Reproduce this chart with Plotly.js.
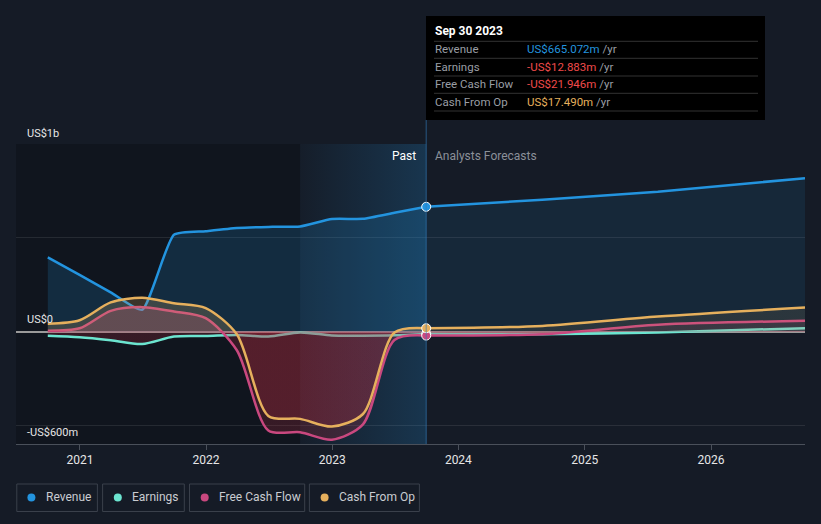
<!DOCTYPE html>
<html>
<head>
<meta charset="utf-8">
<script src="https://cdn.plot.ly/plotly-3.0.1.min.js"></script>
<style>
  html, body { margin: 0; padding: 0; background: #151b26; }
  #chart { width: 821px; height: 524px; }
</style>
</head>
<body>
<div id="chart"></div>
<script>
// ---- data (US$ millions) ----
const pastDates = ['2020-09-30','2020-12-31','2021-03-31','2021-06-30','2021-09-30','2021-12-31','2022-03-31','2022-06-30','2022-09-30','2022-12-31','2023-03-31','2023-06-30','2023-09-30'];
const revenuePast  = [395, 302, 209, 116, 516, 535, 552, 558, 560, 600, 601, 633, 665.072];
const earningsPast = [-23, -31, -47, -67, -27, -24, -18, -27, -5, -21, -22, -20, -12.883];
const fcfPast      = [4, 17, 110, 130, 107, 71, -100, -528, -537, -577, -495, -45, -21.946];
const cfoPast      = [41, 60, 155, 180, 151, 125, -15, -450, -466, -507, -440, -5, 17.49];

const forecastDates = ['2023-09-30','2024-08-31','2025-07-31','2026-09-30'];
const revenueFc  = [665.072, 703, 745, 818];
const earningsFc = [-12.883, -15, -5, 18];
const fcfFc      = [-21.946, -14, 36, 57];
const cfoFc      = [17.49, 30, 80, 128];

const yearTicks = ['2021-01-01','2022-01-01','2023-01-01','2024-01-01','2025-01-01','2026-01-01'];
const yearLabels = ['2021','2022','2023','2024','2025','2026'];
const seriesNames = ['Revenue','Earnings','Free Cash Flow','Cash From Op'];
const seriesColors = ['#2394df','#6ce5d0','#c9487f','#e6b05d'];
const tooltipDate = 'Sep 30 2023';
const tooltipValues = ['US$665.072m','-US$12.883m','-US$21.946m','US$17.490m'];
const tooltipValueColors = ['#2394df','#f04b4b','#f04b4b','#e6b05d'];

// ---- layout geometry helpers ----
const W = 821, H = 524;
const M = {l: 16, r: 16, t: 144, b: 80};
const PW = W - M.l - M.r, PH = H - M.t - M.b;
const xp = px => (px - M.l) / PW;
const yp = py => (H - M.b - py) / PH;

const YMIN = -600, YMAX = 1000;
const zeroFrac = (0 - YMIN) / (YMAX - YMIN);
function signedGradient(posColor, negColor) {
  return {
    type: 'vertical', start: YMIN, stop: YMAX,
    colorscale: [[0, negColor], [zeroFrac, negColor], [zeroFrac + 0.0001, posColor], [1, posColor]]
  };
}
const NEG = 'rgba(190,45,65,0.22)';

function line(x, y, color, fillPos, extra) {
  return Object.assign({
    type: 'scatter', mode: 'lines', x: x, y: y,
    line: {color: color, width: 2.5, shape: 'spline', smoothing: 0.8},
    fill: 'tozeroy',
    fillgradient: signedGradient(fillPos, NEG),
    hoverinfo: 'skip', showlegend: false
  }, extra || {});
}

const traces = [
  // past-year band (gradient)
  {type: 'scatter', mode: 'none', x: ['2022-09-30','2023-09-30','2023-09-30','2022-09-30'], y: [YMIN, YMIN, YMAX, YMAX],
   fill: 'toself', fillgradient: {type: 'horizontal',
     colorscale: [[0, 'rgba(35,148,223,0.02)'], [1, 'rgba(35,148,223,0.22)']]},
   hoverinfo: 'skip', showlegend: false},
  // revenue
  {type: 'scatter', mode: 'lines', x: pastDates, y: revenuePast, fill: 'tozeroy', fillcolor: 'rgba(35,148,223,0.18)',
   line: {color: seriesColors[0], width: 2.5, shape: 'spline', smoothing: 0.5}, hoverinfo: 'skip', showlegend: false},
  {type: 'scatter', mode: 'lines', x: forecastDates, y: revenueFc, fill: 'tozeroy', fillcolor: 'rgba(35,148,223,0.11)',
   line: {color: seriesColors[0], width: 2.5, shape: 'spline', smoothing: 0.5}, hoverinfo: 'skip', showlegend: false},
  // earnings
  line(pastDates, earningsPast, seriesColors[1], 'rgba(108,229,208,0.15)'),
  line(forecastDates, earningsFc, seriesColors[1], 'rgba(108,229,208,0.08)'),
  // free cash flow
  line(pastDates, fcfPast, seriesColors[2], 'rgba(201,72,127,0.25)'),
  line(forecastDates, fcfFc, seriesColors[2], 'rgba(201,72,127,0.10)'),
  // cash from op
  line(pastDates, cfoPast, seriesColors[3], 'rgba(230,176,93,0.20)'),
  line(forecastDates, cfoFc, seriesColors[3], 'rgba(230,176,93,0.10)'),
];
// end-of-past markers
const lastIdx = pastDates.length - 1;
[[earningsPast, 1], [revenuePast, 0], [fcfPast, 2], [cfoPast, 3]].forEach(([arr, i]) => {
  traces.push({type: 'scatter', mode: 'markers', x: [pastDates[lastIdx]], y: [arr[lastIdx]],
    marker: {color: seriesColors[i], size: 9, line: {color: '#ffffff', width: 1}},
    hoverinfo: 'skip', showlegend: false});
});

const shapes = [
  // darker past region
  {type: 'rect', xref: 'x', yref: 'paper', x0: '2020-06-30', x1: '2022-09-30', y0: 0, y1: 1,
   fillcolor: 'rgba(0,0,0,0.2)', line: {width: 0}, layer: 'below'},
  // tooltip vertical line
  {type: 'line', xref: 'x', yref: 'paper', x0: '2023-09-30', x1: '2023-09-30', y0: 0, y1: yp(120),
   line: {color: 'rgba(50,120,180,0.55)', width: 1.2}},
  // tooltip box
  {type: 'rect', xref: 'paper', yref: 'paper', x0: xp(426), x1: xp(765), y0: yp(120), y1: yp(16),
   fillcolor: '#000000', line: {width: 0}},
];
[41.3, 58.3, 76, 93.3, 111].forEach(py => {
  shapes.push({type: 'line', xref: 'paper', yref: 'paper', x0: xp(434), x1: xp(758), y0: yp(py), y1: yp(py),
    line: {color: '#333333', width: 1}});
});

const annotations = [
  {xref: 'paper', yref: 'y', x: 0, y: 1000, xanchor: 'left', yanchor: 'middle', xshift: 9, yshift: 11,
   text: 'US$1b', showarrow: false, font: {color: '#e6e6e6', size: 11}},
  {xref: 'paper', yref: 'y', x: 0, y: 0, xanchor: 'left', yanchor: 'middle', xshift: 9, yshift: 12,
   text: 'US$0', showarrow: false, font: {color: '#e6e6e6', size: 11}},
  {xref: 'paper', yref: 'y', x: 0, y: -600, xanchor: 'left', yanchor: 'middle', xshift: 9, yshift: 12,
   text: '-US$600m', showarrow: false, font: {color: '#e6e6e6', size: 11}},
  {xref: 'x', yref: 'paper', x: '2023-09-30', y: yp(156), xanchor: 'right', yanchor: 'middle', xshift: -8,
   text: 'Past', showarrow: false, font: {color: '#ffffff', size: 12}},
  {xref: 'x', yref: 'paper', x: '2023-09-30', y: yp(156), xanchor: 'left', yanchor: 'middle', xshift: 7,
   text: 'Analysts Forecasts', showarrow: false, font: {color: '#8b9099', size: 12}},
  {xref: 'paper', yref: 'paper', x: xp(433), y: yp(31), xanchor: 'left', yanchor: 'middle',
   text: '<b>' + tooltipDate + '</b>', showarrow: false, font: {color: '#ffffff', size: 12}},
];
const rowY = [49, 66.7, 84.3, 101.7];
seriesNames.forEach((n, i) => {
  annotations.push({xref: 'paper', yref: 'paper', x: xp(433), y: yp(rowY[i]), xanchor: 'left', yanchor: 'middle',
    text: n, showarrow: false, font: {color: '#9a9ea5', size: 11.5}});
  annotations.push({xref: 'paper', yref: 'paper', x: xp(525), y: yp(rowY[i]), xanchor: 'left', yanchor: 'middle',
    text: '<span style="color:' + tooltipValueColors[i] + '">' + tooltipValues[i] + '</span> /yr',
    showarrow: false, font: {color: '#9a9ea5', size: 11.5}});
});

// custom boxed legend
const boxes = [[16.8, 97.4], [102.6, 184.3], [189.5, 304.7], [309.4, 419.4]];
const dotsX = [31.4, 117.8, 204.7, 324.6];
const textX = [44, 129.8, 216.8, 337.2];
seriesNames.forEach((n, i) => {
  shapes.push({type: 'rect', xref: 'paper', yref: 'paper', x0: xp(boxes[i][0]), x1: xp(boxes[i][1]),
    y0: yp(511.5), y1: yp(484), line: {color: '#3a404b', width: 1}, fillcolor: 'rgba(0,0,0,0)'});
  shapes.push({type: 'circle', xref: 'paper', yref: 'paper', xsizemode: 'pixel', ysizemode: 'pixel',
    xanchor: xp(dotsX[i]), yanchor: yp(497.5), x0: -4, x1: 4, y0: -4, y1: 4,
    fillcolor: seriesColors[i], line: {width: 0}});
  annotations.push({xref: 'paper', yref: 'paper', x: xp(textX[i]), y: yp(497.5), xanchor: 'left', yanchor: 'middle',
    text: n, showarrow: false, font: {color: '#c9ccd1', size: 12}});
});

const layout = {
  width: W, height: H,
  margin: M,
  paper_bgcolor: '#151b26', plot_bgcolor: '#151b26',
  font: {family: 'Roboto, "Open Sans", sans-serif'},
  xaxis: {type: 'date', range: ['2020-06-30', '2026-09-30'], tickvals: yearTicks, ticktext: yearLabels,
    showgrid: false, zeroline: false, showline: true, linecolor: '#4a505a', linewidth: 1,
    ticks: 'outside', ticklen: 5, tickcolor: '#4a505a', tickfont: {color: '#e6e6e6', size: 12}, fixedrange: true},
  yaxis: {range: [YMIN, YMAX], tickvals: [-500, 0, 500, 1000], showticklabels: false,
    gridcolor: 'rgba(255,255,255,0.09)', gridwidth: 1, zeroline: true, zerolinecolor: '#9a9a9a', zerolinewidth: 2,
    showline: false, fixedrange: true},
  shapes: shapes, annotations: annotations, showlegend: false, hovermode: false
};

Plotly.newPlot('chart', traces, layout, {displayModeBar: false, staticPlot: true});
</script>
</body>
</html>
